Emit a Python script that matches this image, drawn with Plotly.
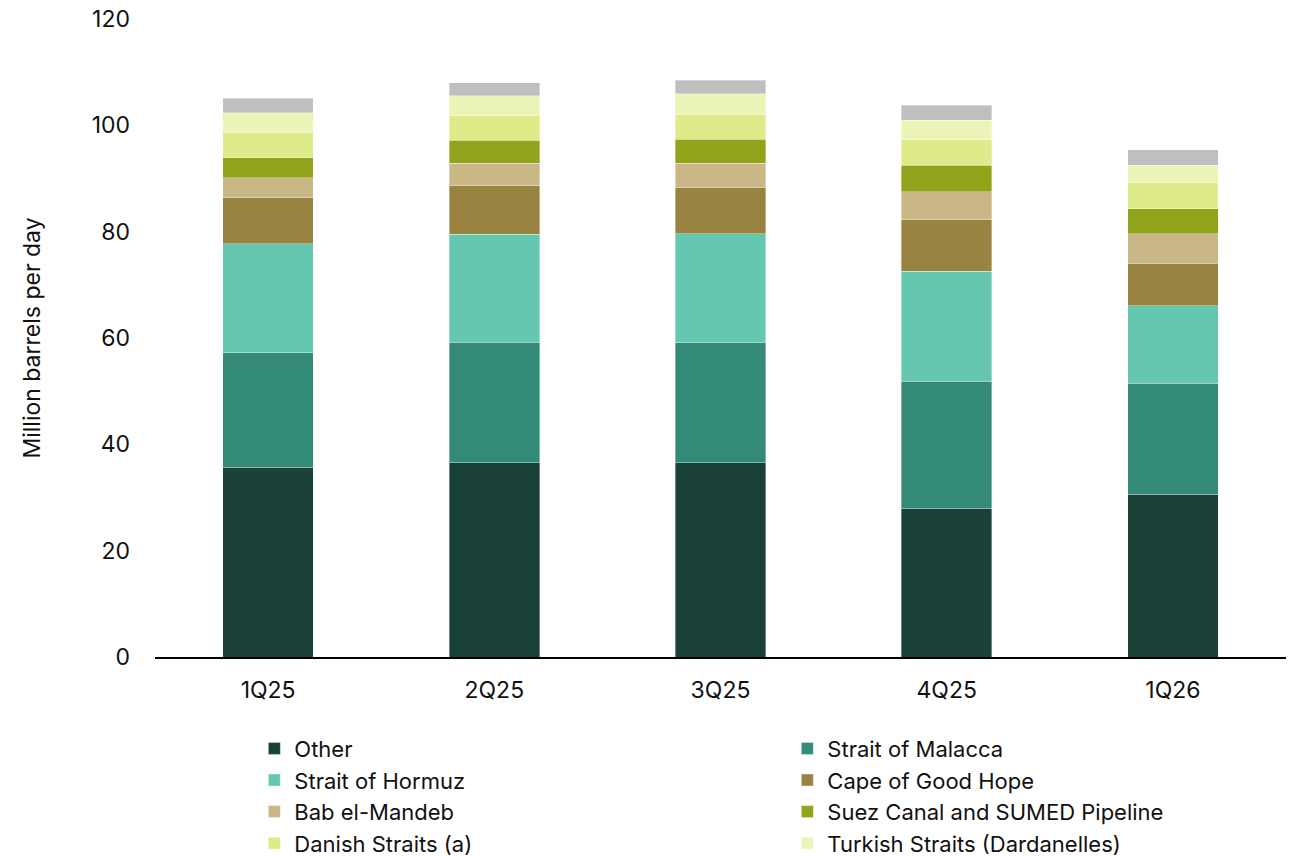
import plotly.graph_objects as go

quarters = ["1Q25", "2Q25", "3Q25", "4Q25", "1Q26"]

other = [35.7, 36.5, 36.5, 28.0, 30.6]
malacca = [21.5, 22.7, 22.6, 23.9, 20.9]
hormuz = [20.5, 20.3, 20.5, 20.7, 14.6]
cape = [8.7, 9.1, 8.8, 9.6, 8.0]
bab = [3.7, 4.3, 4.5, 5.3, 5.5]
suez = [3.8, 4.3, 4.5, 5.0, 4.7]
danish = [4.8, 4.6, 4.7, 4.8, 4.9]
turkish = [3.7, 3.8, 3.8, 3.7, 3.3]
panama = [2.7, 2.4, 2.6, 2.8, 2.9]

y_ticks = [0, 20, 40, 60, 80, 100, 120]

series = [
    ("Other", other, "#1A4138", True),
    ("Strait of Malacca", malacca, "#338B77", True),
    ("Strait of Hormuz", hormuz, "#66C7B0", True),
    ("Cape of Good Hope", cape, "#988440", True),
    ("Bab el-Mandeb", bab, "#C9B885", True),
    ("Suez Canal and SUMED Pipeline", suez, "#91A31B", True),
    ("Danish Straits (a)", danish, "#DFEB88", True),
    ("Turkish Straits (Dardanelles)", turkish, "#ECF4B8", True),
    ("Panama Canal", panama, "#BFBFBF", False),
]

FONT = "Inter, Arial, sans-serif"
FS = 23

fig = go.Figure()
for name, vals, color, show in series:
    fig.add_trace(go.Bar(
        x=quarters, y=vals, name=name, showlegend=show,
        marker=dict(color=color, line=dict(color="rgba(255,255,255,0.45)", width=0.8)),
    ))

fig.update_layout(
    barmode="stack",
    bargap=0.6,
    width=1297, height=856,
    paper_bgcolor="white", plot_bgcolor="white",
    margin=dict(l=155, r=11, t=19, b=199, autoexpand=False),
    font=dict(family=FONT, size=FS, color="#111111"),
    legend=dict(
        orientation="h", traceorder="normal",
        xref="container", yref="container",
        x=0.1961, y=0.15, xanchor="left", yanchor="top",
        entrywidth=488, entrywidthmode="pixels",
        font=dict(family=FONT, size=22, color="#111111"),
        itemwidth=30, tracegroupgap=0,
    ),
    showlegend=True,
)
fig.update_xaxes(
    showline=True, linecolor="#000000", linewidth=1.5, automargin=False,
    ticks="", showgrid=False, ticklabelstandoff=12,
    tickfont=dict(family=FONT, size=FS, color="#111111"),
)
fig.update_yaxes(
    range=[0, 120], tickvals=y_ticks, showgrid=False, zeroline=False,
    showline=False, ticks="", ticklabelstandoff=24, automargin=False,
    ticklabeloverflow="allow",
    tickfont=dict(family=FONT, size=FS, color="#111111"),
    title=dict(text="Million barrels per day", font=dict(family=FONT, size=FS, color="#111111"), standoff=44),
)

fig.write_html(
    "out.html",
    config={"displayModeBar": False},
    post_script="document.body.style.margin='0';document.body.style.padding='0';",
)
